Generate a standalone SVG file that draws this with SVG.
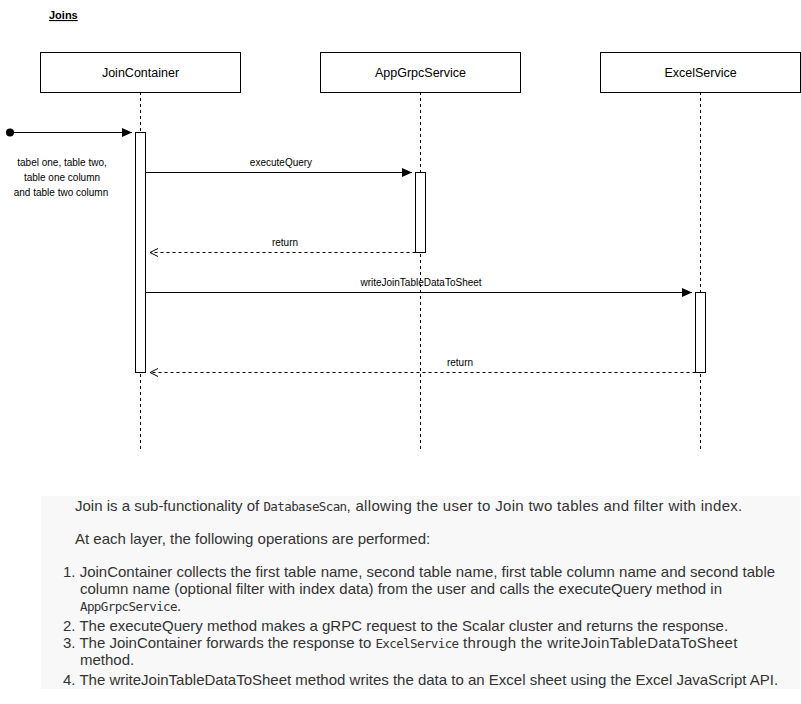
<svg xmlns="http://www.w3.org/2000/svg" width="801" height="704" viewBox="0 0 801 704">
  <style>
    .box { fill: #ffffff; stroke: #000000; stroke-width: 1; }
    .lbl { font-family: "Liberation Sans", Arial, sans-serif; font-size: 10px; fill: #000000; text-anchor: middle; }
    .head { font-family: "Liberation Sans", Arial, sans-serif; font-size: 12.5px; fill: #000000; text-anchor: middle; }
    .life { stroke: #000000; stroke-width: 1; stroke-dasharray: 3 3; fill: none; }
    .msg { stroke: #000000; stroke-width: 1; fill: none; }
    .ret { stroke: #000000; stroke-width: 1; fill: none; stroke-dasharray: 3 3; }
    .doc { font-family: "Liberation Sans", Arial, sans-serif; font-size: 15px; fill: #333333; }
    .code { font-family: "DejaVu Sans Mono", "Liberation Mono", monospace; font-size: 12.5px; letter-spacing: -0.6px; }
  </style>
  <defs>
    <marker id="block" markerWidth="12" markerHeight="12" refX="10" refY="5" orient="auto" markerUnits="userSpaceOnUse">
      <path d="M0,0.5 L10,5 L0,9.5 Z" fill="#000000"/>
    </marker>
    <marker id="open" markerWidth="12" markerHeight="12" refX="9" refY="5" orient="auto" markerUnits="userSpaceOnUse">
      <path d="M1,1 L9,5 L1,9" fill="none" stroke="#000000" stroke-width="1"/>
    </marker>
  </defs>

  <rect width="801" height="704" fill="#ffffff"/>

  <!-- Title -->
  <text x="49" y="19" font-family="Liberation Sans, Arial, sans-serif" font-size="11" font-weight="bold" text-decoration="underline">Joins</text>

  <!-- Participants with lifelines and activation bars -->
  <g id="joinContainer">
    <line class="life" x1="140.5" y1="92" x2="140.5" y2="450"/>
    <rect class="box" x="40.5" y="52.5" width="200" height="40"/>
    <text class="head" x="140.5" y="77">JoinContainer</text>
    <rect class="box" x="135.5" y="132.5" width="10" height="240"/>
  </g>
  <g id="appGrpcService">
    <line class="life" x1="420.5" y1="92" x2="420.5" y2="450"/>
    <rect class="box" x="320.5" y="52.5" width="200" height="40"/>
    <text class="head" x="420.5" y="77">AppGrpcService</text>
    <rect class="box" x="415.5" y="172.5" width="10" height="80"/>
  </g>
  <g id="excelService">
    <line class="life" x1="700.5" y1="92" x2="700.5" y2="450"/>
    <rect class="box" x="600.5" y="52.5" width="200" height="40"/>
    <text class="head" x="700.5" y="77">ExcelService</text>
    <rect class="box" x="695.5" y="292.5" width="10" height="80"/>
  </g>

  <!-- Messages -->
  <g id="connectors">
    <circle cx="10" cy="132.5" r="4" fill="#000000"/>
    <line class="msg" x1="10" y1="132.5" x2="132" y2="132.5" marker-end="url(#block)"/>
    <text class="lbl" x="62" y="166">tabel one, table two,</text>
    <text class="lbl" x="62" y="181">table one column</text>
    <text class="lbl" x="61" y="196">and table two column</text>

    <line class="msg" x1="145.5" y1="172.5" x2="412" y2="172.5" marker-end="url(#block)"/>
    <text class="lbl" x="281" y="166">executeQuery</text>

    <line class="ret" x1="415.5" y1="252.5" x2="150" y2="252.5" marker-end="url(#open)"/>
    <text class="lbl" x="285" y="246">return</text>

    <line class="msg" x1="145.5" y1="292.5" x2="692" y2="292.5" marker-end="url(#block)"/>
    <text class="lbl" x="421" y="286">writeJoinTableDataToSheet</text>

    <line class="ret" x1="695.5" y1="372.5" x2="150" y2="372.5" marker-end="url(#open)"/>
    <text class="lbl" x="460" y="366">return</text>
  </g>

  <!-- Description panel -->
  <g id="description">
    <rect x="41" y="496" width="759" height="193" fill="#f8f8f8"/>
    <text class="doc" x="75" y="511">Join is a sub-functionality of <tspan class="code">DatabaseScan</tspan><tspan letter-spacing="0.3">, allowing the user to Join two tables and filter with index.</tspan></text>
    <text class="doc" x="75" y="544">At each layer, the following operations are performed:</text>
    <text class="doc" x="63" y="577">1. JoinContainer collects the first table name, second table name, first table column name and second table</text>
    <text class="doc" x="80" y="594">column name (optional filter with index data) from the user and calls the executeQuery method in</text>
    <text class="doc" x="80" y="611"><tspan class="code">AppGrpcService</tspan>.</text>
    <text class="doc" x="63" y="631">2. The executeQuery method makes a gRPC request to the Scalar cluster and returns the response.</text>
    <text class="doc" x="63" y="648">3. The JoinContainer forwards the response to <tspan class="code">ExcelService</tspan><tspan letter-spacing="0.35"> through the writeJoinTableDataToSheet</tspan></text>
    <text class="doc" x="80" y="665">method.</text>
    <text class="doc" x="63" y="685">4. The writeJoinTableDataToSheet method writes the data to an Excel sheet using the Excel JavaScript API.</text>
  </g>
</svg>
